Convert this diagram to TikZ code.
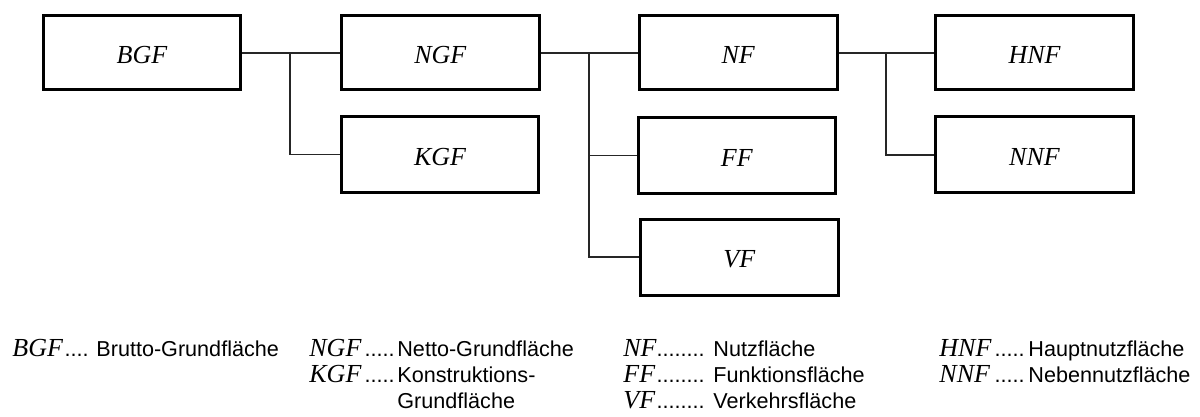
\documentclass[tikz,border=0pt]{standalone}
\usepackage{fontspec}
\setmainfont{Liberation Serif}
\newfontfamily\legsans{Liberation Sans}
\begin{document}
\begin{tikzpicture}[x=0.5pt,y=-0.5pt,
  box/.style={draw=black, line width=1.5pt, minimum width=98.75pt, minimum height=38pt,
    inner sep=0pt, font=\fontsize{13}{15}\selectfont\itshape, text height=10.8pt, text depth=0pt},
  toprow/.style={minimum height=37pt},
  conn/.style={draw=black!85, line width=0.65pt},
  abbr/.style={anchor=base west, inner sep=0pt, font=\fontsize{13}{15}\selectfont\itshape},
  dots/.style={anchor=base east, inner sep=0pt, font=\legsans\fontsize{10.8}{13}\selectfont},
  desc/.style={anchor=base west, inner sep=0pt, font=\legsans\fontsize{10.8}{13}\selectfont}]
\useasboundingbox (0,0) rectangle (1200,417);
% boxes
\node[box,toprow] (BGF) at (142,53) {BGF};
\node[box,toprow] (NGF) at (440.25,53) {NGF};
\node[box] (KGF) at (440,154.5) {KGF};
\node[box,toprow] (NF) at (738.25,53) {NF};
\node[box] (FF) at (736.75,155.5) {FF};
\node[box] (VF) at (739.35,257) {VF};
\node[box,toprow] (HNF) at (1034.5,53) {HNF};
\node[box] (NNF) at (1034.5,155) {NNF};
% connectors
\coordinate (j1) at (290,53);
\coordinate (j2) at (589,53);
\coordinate (j3) at (886,53);
\draw[conn] (BGF.east) -- (NGF.west);
\draw[conn] (j1) |- (KGF.west);
\draw[conn] (NGF.east) -- (NF.west);
\draw[conn] (j2) |- (FF.west);
\draw[conn] (j2) |- (VF.west);
\draw[conn] (NF.east) -- (HNF.west);
\draw[conn] (j3) |- (NNF.west);
% legend column 1
\node[abbr] (lBGF) at (12,356.5) {BGF};
\node[dots] (dBGF) at (89,356.5) {....};
\node[desc] (tBGF) at (96,356.5) {Brutto-Grundfläche};
% column 2
\node[abbr] (lNGF) at (309,356.5) {NGF};
\node[dots] (dNGF) at (395,356.5) {.....};
\node[desc] (tNGF) at (397,356.5) {Netto-Grundfläche};
\node[abbr] (lKGF) at (309,382.5) {KGF};
\node[dots] (dKGF) at (395,382.5) {.....};
\node[desc] (tKGF) at (397,382.5) {Konstruktions-};
\node[desc] (tKGF2) at (397,408.5) {Grundfläche};
% column 3
\node[abbr] (lNF) at (623,356.5) {NF};
\node[dots] (dNF) at (705,356.5) {........};
\node[desc] (tNF) at (713,356.5) {Nutzfläche};
\node[abbr] (lFF) at (623,382.5) {FF};
\node[dots] (dFF) at (705,382.5) {........};
\node[desc] (tFF) at (713,382.5) {Funktionsfläche};
\node[abbr] (lVF) at (623,408.5) {VF};
\node[dots] (dVF) at (705,408.5) {........};
\node[desc] (tVF) at (713,408.5) {Verkehrsfläche};
% column 4
\node[abbr] (lHNF) at (939,356.5) {HNF};
\node[dots] (dHNF) at (1025,356.5) {.....};
\node[desc] (tHNF) at (1028,356.5) {Hauptnutzfläche};
\node[abbr] (lNNF) at (939,382.5) {NNF};
\node[dots] (dNNF) at (1025,382.5) {.....};
\node[desc] (tNNF) at (1028,382.5) {Nebennutzfläche};
\end{tikzpicture}
\end{document}
